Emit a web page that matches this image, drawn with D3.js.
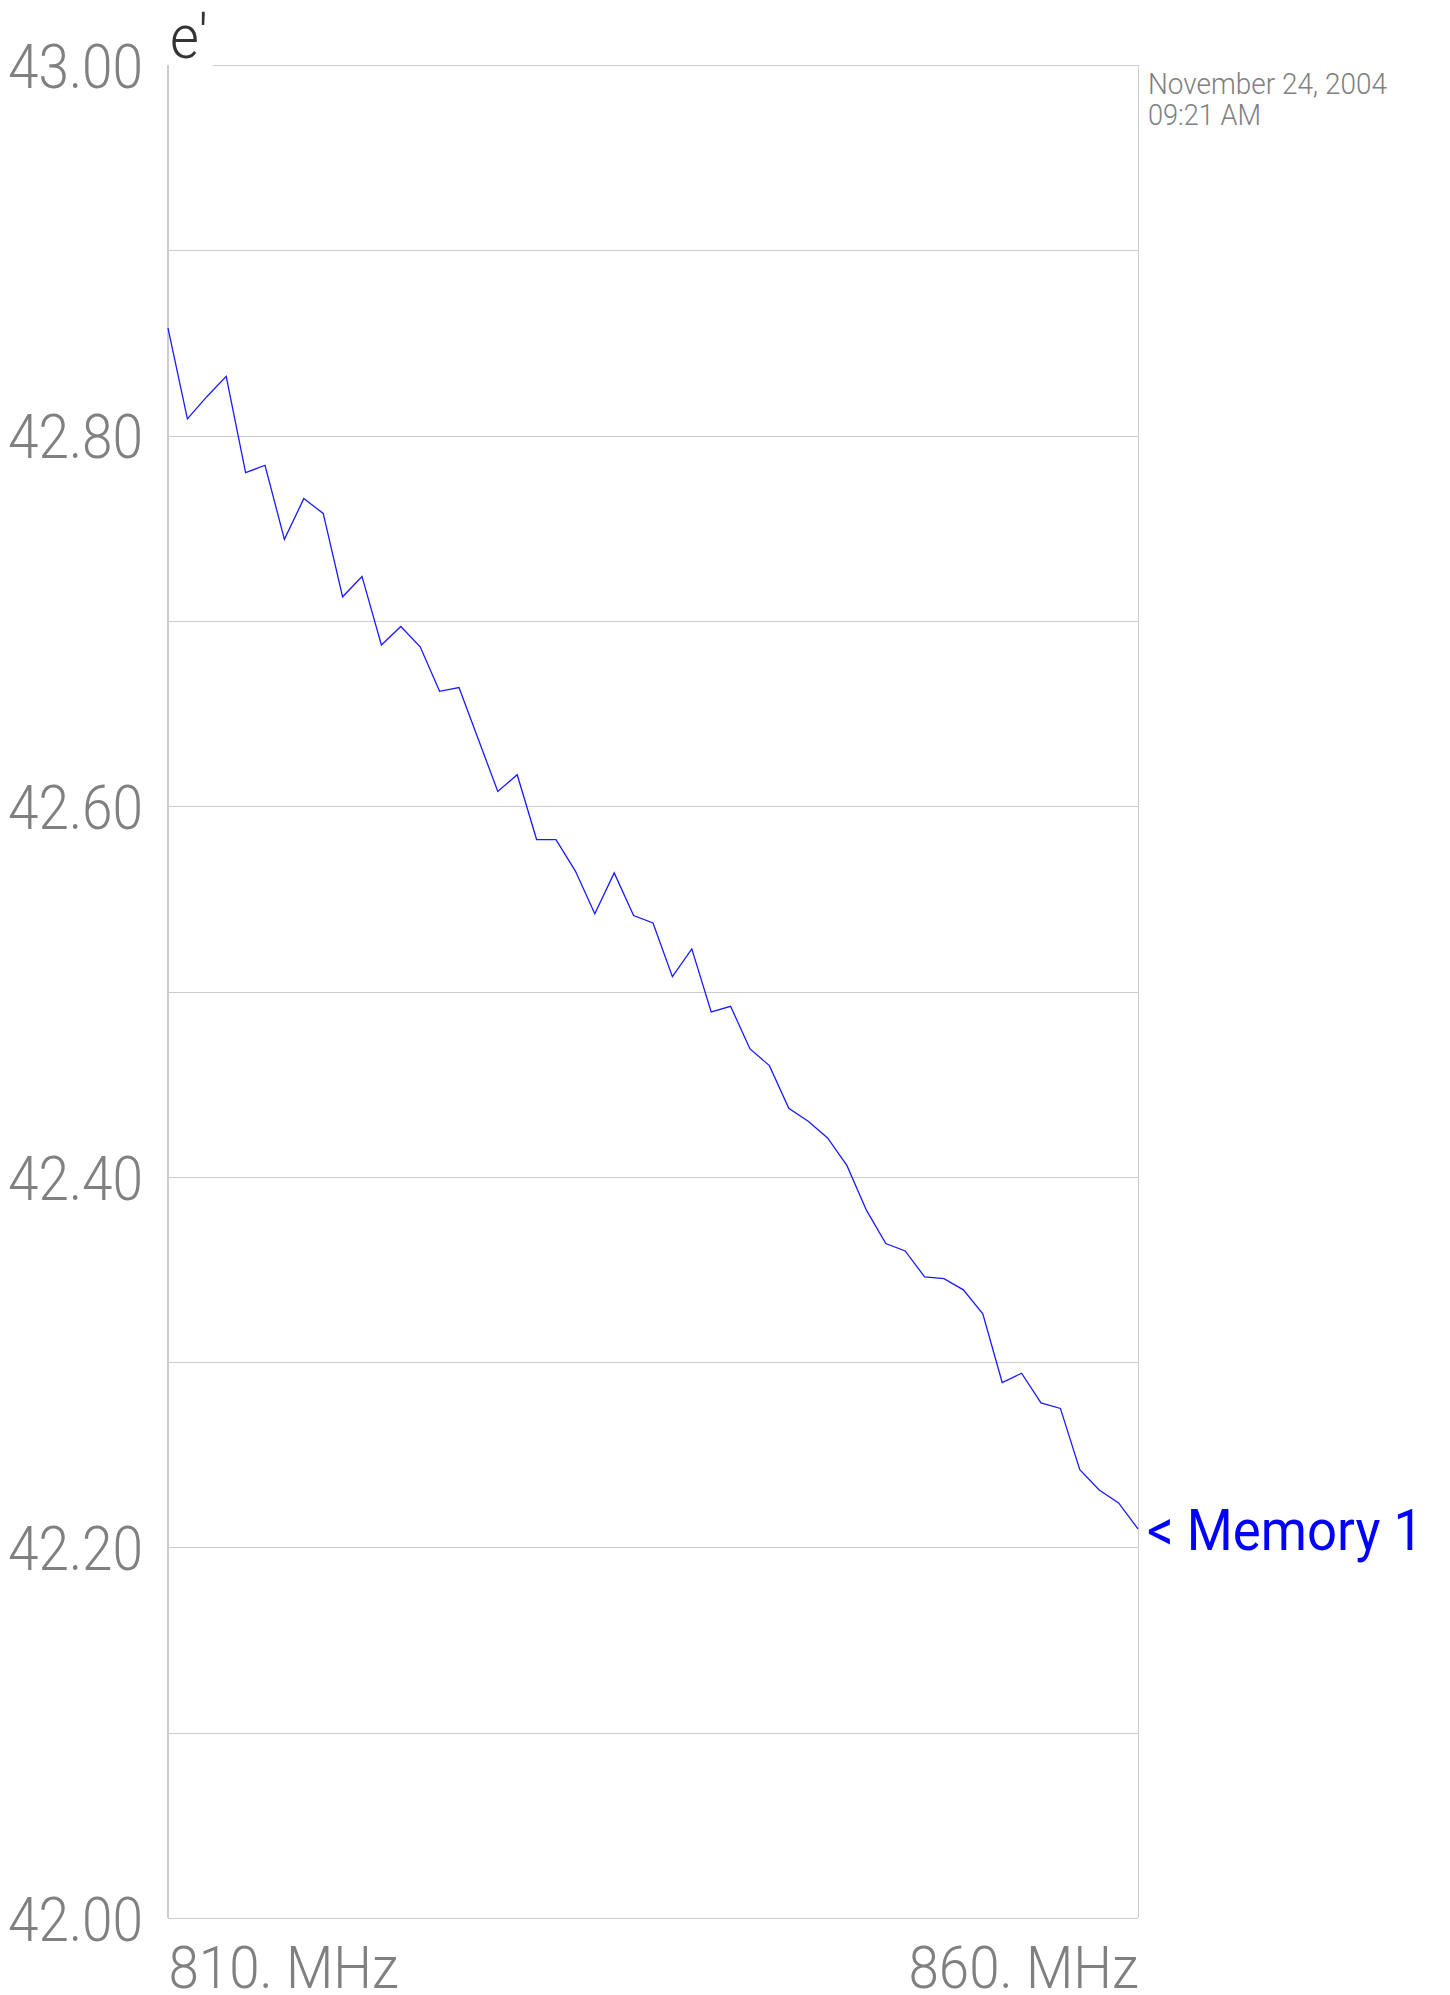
<!DOCTYPE html>
<html>
<head>
<meta charset="utf-8">
<script src="https://cdn.jsdelivr.net/npm/d3@7"></script>
<style>
  body { margin: 0; background: #fff; }
  svg { display: block; }
  text { font-family: Roboto, "Liberation Sans", Arial, sans-serif; font-weight: 300; }
</style>
</head>
<body>
<div class="chart-container"></div>
<script>
const SVG_WIDTH = 1450;
const SVG_HEIGHT = 1995;

const margin = { top: 65, left: 168, right: 312, bottom: 77 };

// frequency, MHz
const freqs = [
    810, 811, 812, 813, 814, 815, 816, 817, 818, 819,
    820, 821, 822, 823, 824, 825, 826, 827, 828, 829,
    830, 831, 832, 833, 834, 835, 836, 837, 838, 839,
    840, 841, 842, 843, 844, 845, 846, 847, 848, 849,
    850, 851, 852, 853, 854, 855, 856, 857, 858, 859,
    860
];

// e' (Memory 1)
const memory1 = [
    42.858, 42.809, 42.821, 42.832, 42.780, 42.784, 42.744, 42.766, 42.758, 42.713,
    42.724, 42.687, 42.697, 42.686, 42.662, 42.664, 42.636, 42.608, 42.617, 42.582,
    42.582, 42.565, 42.542, 42.564, 42.541, 42.537, 42.508, 42.523, 42.489, 42.492,
    42.469, 42.460, 42.437, 42.430, 42.421, 42.406, 42.382, 42.364, 42.360, 42.346,
    42.345, 42.339, 42.326, 42.289, 42.294, 42.278, 42.275, 42.242, 42.231, 42.224,
    42.210
];

const yDomain = [42.0, 43.0];
const gridTicks = [42.0, 42.1, 42.2, 42.3, 42.4, 42.5, 42.6, 42.7, 42.8, 42.9, 43.0];
const labelTicks = [42.0, 42.2, 42.4, 42.6, 42.8, 43.0];
const xTicks = [810, 860];

const yLabel = "e'";
const seriesLabel = "< Memory 1";
const dateLines = ["November 24, 2004", "09:21 AM"];

const textGrey = "#808080";
const gridGrey = "#cccccc";
const lineBlue = "#1a1aff";

const svg = d3.select(".chart-container")
    .append("svg")
    .attr("width", SVG_WIDTH)
    .attr("height", SVG_HEIGHT);

const plotW = SVG_WIDTH - margin.left - margin.right;
const plotH = SVG_HEIGHT - margin.top - margin.bottom;

const x = d3.scaleLinear().domain([freqs[0], freqs[freqs.length - 1]]).range([0, plotW]);
const y = d3.scaleLinear().domain(yDomain).range([plotH, 0]);

const plot = svg.append("g").attr("transform", `translate(${margin.left}, ${margin.top})`);

// horizontal grid
const grid = plot.append("g")
    .call(d3.axisLeft(y).tickValues(gridTicks).tickSize(-plotW).tickFormat(""));
grid.select(".domain").remove();
grid.selectAll(".tick line")
    .attr("stroke", gridGrey)
    .attr("stroke-width", 1)
    .attr("shape-rendering", "crispEdges");

// frame
plot.append("line")
    .attr("x1", 0).attr("x2", 0).attr("y1", 0).attr("y2", plotH)
    .attr("stroke", gridGrey).attr("stroke-width", 2);
plot.append("line")
    .attr("x1", plotW).attr("x2", plotW).attr("y1", 0).attr("y2", plotH)
    .attr("stroke", gridGrey).attr("stroke-width", 1)
    .attr("shape-rendering", "crispEdges");

// y labels
const yAxis = plot.append("g")
    .call(d3.axisLeft(y).tickValues(labelTicks).tickSize(0).tickPadding(25).tickFormat(d3.format(".2f")));
yAxis.select(".domain").remove();
yAxis.selectAll("text")
    .attr("fill", textGrey)
    .style("font-size", "62px")
    .attr("dy", "0.36em")
    .attr("textLength", 135)
    .attr("lengthAdjust", "spacingAndGlyphs");

// x labels
const xAxis = plot.append("g")
    .attr("transform", `translate(0, ${plotH})`)
    .call(d3.axisBottom(x).tickValues(xTicks).tickSize(0).tickPadding(0).tickFormat(d => d + ". MHz"));
xAxis.select(".domain").remove();
xAxis.selectAll("text")
    .attr("fill", textGrey)
    .style("font-size", "60px")
    .attr("y", 70)
    .attr("dy", 0)
    .attr("text-anchor", (d, i) => i === 0 ? "start" : "end")
    .attr("textLength", 230)
    .attr("lengthAdjust", "spacingAndGlyphs");

// y title, with white patch over the frame
plot.append("rect")
    .attr("x", 1).attr("y", -margin.top)
    .attr("width", 44).attr("height", margin.top + 1)
    .attr("fill", "#fff");
plot.append("text")
    .attr("x", 2)
    .attr("y", -7)
    .attr("fill", "#333")
    .style("font-size", "62px")
    .attr("textLength", 38)
    .attr("lengthAdjust", "spacingAndGlyphs")
    .text(yLabel);

// date stamp
dateLines.forEach((t, i) => {
    plot.append("text")
        .attr("x", plotW + 10)
        .attr("y", 29 + i * 31)
        .attr("fill", textGrey)
        .style("font-size", "30px")
        .attr("textLength", i === 0 ? 239 : 113)
        .attr("lengthAdjust", "spacingAndGlyphs")
        .text(t);
});

// data line
const data = freqs.map((f, i) => ({ f: f, v: memory1[i] }));
plot.append("path")
    .datum(data)
    .attr("fill", "none")
    .attr("stroke", lineBlue)
    .attr("stroke-width", 1.3)
    .attr("d", d3.line().x(d => x(d.f)).y(d => y(d.v)));

// series label at line end
const last = data[data.length - 1];
plot.append("text")
    .attr("x", x(last.f) + 9)
    .attr("y", y(last.v) + 21)
    .attr("fill", "#0000ff")
    .style("font-size", "58px")
    .style("font-weight", "400")
    .attr("textLength", 276)
    .attr("lengthAdjust", "spacingAndGlyphs")
    .text(seriesLabel);
</script>
</body>
</html>
